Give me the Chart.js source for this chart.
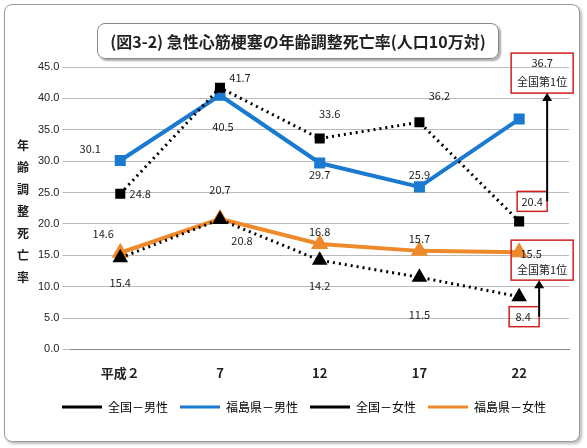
<!DOCTYPE html>
<html><head><meta charset="utf-8">
<script src="https://cdn.jsdelivr.net/npm/chart.js@4"></script>
<style>
body{margin:0;background:#fff;font-family:"Noto Sans CJK JP",sans-serif}
#wrap{position:absolute;left:4px;top:4px;width:574px;height:436px;border:1px solid #999;border-radius:8px;box-shadow:2px 2px 3px #bbb;background:#fff}
#ttl{position:absolute;left:92px;top:18px;width:400px;height:34px;border:1px solid #888;border-radius:8px;box-shadow:2px 2px 2px #aaa;font-weight:bold;font-size:16px;line-height:34px;text-align:center;color:#222;white-space:nowrap}
canvas{position:absolute;left:0;top:0}
</style></head><body>
<div id="wrap"><canvas id="c" width="574" height="436"></canvas><div id="ttl">(図3-2) 急性心筋梗塞の年齢調整死亡率(人口10万対)</div></div>
<script>
const categories = ['平成２', '7', '12', '17', '22'];
const zenMale = [24.8, 41.7, 33.6, 36.2, 20.4];
const fukuMale = [30.1, 40.5, 29.7, 25.9, 36.7];
const zenFemale = [14.6, 20.7, 14.2, 11.5, 8.4];
const fukuFemale = [15.4, 20.8, 16.8, 15.7, 15.5];
const yTicks = [0, 5, 10, 15, 20, 25, 30, 35, 40, 45];

// label offsets [dx, dy] per point
const offs = [
  [[20,0],[20,-10],[10,-25],[20,-26],null],
  [[-30,-12],[3,32],[0,12],[0,-12],null],
  [[-17,-24],[0,-30],[0,26],[0,38],null],
  [[0,30],[22,22],[0,-12],[0,-12],null]
];
const extras = {
  id: 'extras',
  afterDatasetsDraw(chart) {
    const ctx = chart.ctx, x = chart.scales.x, y = chart.scales.y;
    ctx.save();
    ctx.font = '11px "Noto Sans CJK JP"';
    ctx.fillStyle = '#222';
    ctx.textAlign = 'center'; ctx.textBaseline = 'middle';
    chart.data.datasets.forEach((ds, i) => {
      ds.data.forEach((v, j) => {
        const o = offs[i][j]; if (!o) return;
        ctx.fillText(v.toFixed(1), x.getPixelForValue(j) + o[0], y.getPixelForValue(v) + o[1]);
      });
    });
    const px = x.getPixelForValue(4);
    ctx.strokeStyle = '#d02020'; ctx.lineWidth = 1.5;
    const box = (l, t, w, h) => ctx.strokeRect(l, t, w, h);
    const yM = y.getPixelForValue(fukuMale[4]), yZ = y.getPixelForValue(zenMale[4]);
    const yF = y.getPixelForValue(fukuFemale[4]), yZF = y.getPixelForValue(zenFemale[4]);
    box(px - 8, yM - 66, 62, 40);
    ctx.fillText(fukuMale[4].toFixed(1), px + 23, yM - 56);
    ctx.fillText('全国第1位', px + 23, yM - 37);
    box(px - 2, yZ - 30, 30, 20);
    ctx.fillText(zenMale[4].toFixed(1), px + 13, yZ - 20);
    box(px - 8, yF - 12, 62, 40);
    ctx.fillText(fukuFemale[4].toFixed(1), px + 12, yF + 2);
    ctx.fillText('全国第1位', px + 23, yF + 18);
    box(px - 10, yZF + 10, 30, 20);
    ctx.fillText(zenFemale[4].toFixed(1), px + 4, yZF + 20);
    ctx.strokeStyle = '#000'; ctx.fillStyle = '#000'; ctx.lineWidth = 2;
    const arrow = (ax, y0, y1) => {
      ctx.beginPath(); ctx.moveTo(ax, y0); ctx.lineTo(ax, y1 + 6); ctx.stroke();
      ctx.beginPath(); ctx.moveTo(ax - 5, y1 + 8); ctx.lineTo(ax + 5, y1 + 8); ctx.lineTo(ax, y1); ctx.fill();
    };
    arrow(px + 28, yZ - 20, yM - 26);
    arrow(px + 20, yZF + 20, yF + 28);
    ctx.fillStyle = '#222'; ctx.font = 'bold 12px "Noto Sans CJK JP"';
    '年齢調整死亡率'.split('').forEach((c, k) => ctx.fillText(c, 18, 140 + k * 22));
    ctx.restore();
  }
};
new Chart(document.getElementById('c'), {
  type: 'line',
  data: {
    labels: categories,
    datasets: [
      { label: '全国－男性', data: zenMale, borderColor: '#000', backgroundColor: '#000', borderWidth: 3, borderDash: [2, 4], pointStyle: 'rect', pointRadius: 5 },
      { label: '福島県－男性', data: fukuMale, borderColor: '#1a7ad0', backgroundColor: '#1a7ad0', borderWidth: 4, pointStyle: 'rect', pointRadius: 5 },
      { label: '全国－女性', data: zenFemale, borderColor: '#000', backgroundColor: '#000', borderWidth: 3, borderDash: [2, 4], pointStyle: 'triangle', pointRadius: 6 },
      { label: '福島県－女性', data: fukuFemale, borderColor: '#ee8a2c', backgroundColor: '#ee8a2c', borderWidth: 4, pointStyle: 'triangle', pointRadius: 6 }
    ]
  },
  options: {
    responsive: false, animation: false,
    layout: { padding: { left: 30, right: 6, top: 62, bottom: 18 } },
    scales: {
      x: { offset: true, grid: { display: false }, border: { color: '#888' },
        ticks: { color: '#222', font: { size: 13, weight: 'bold', family: '"Noto Sans CJK JP"' }, padding: 8 } },
      y: { min: 0, max: 45, afterBuildTicks: a => { a.ticks = yTicks.map(v => ({ value: v })); },
        grid: { color: '#bbb' }, border: { display: false },
        ticks: { color: '#222', font: { size: 11 }, callback: v => v.toFixed(1) } }
    },
    plugins: {
      legend: { position: 'bottom', labels: { boxWidth: 40, boxHeight: 3, color: '#222',
        font: { size: 12, family: '"Noto Sans CJK JP"' }, padding: 12,
        generateLabels: ch => ch.data.datasets.map((d, i) => ({ text: d.label, fillStyle: d.borderColor, strokeStyle: d.borderColor, lineWidth: 0, datasetIndex: i })) } },
      tooltip: { enabled: false }
    }
  },
  plugins: [extras]
});
</script></body></html>
